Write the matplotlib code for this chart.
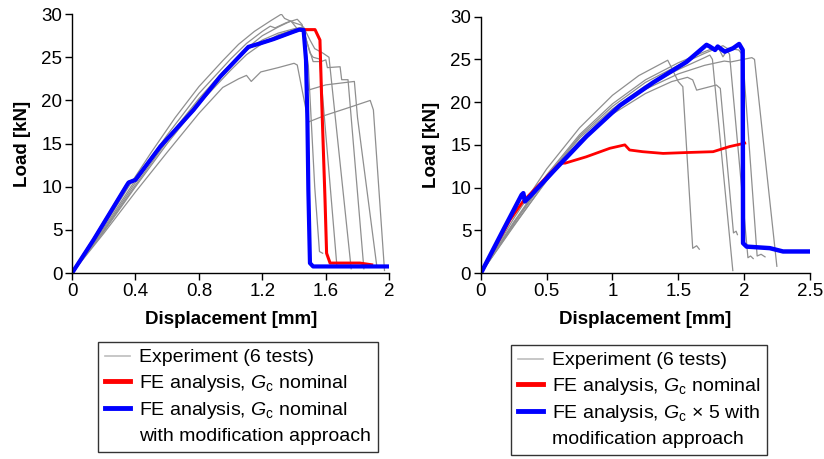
import matplotlib
matplotlib.use("Agg")
import matplotlib.pyplot as plt
from matplotlib.lines import Line2D
from matplotlib.ticker import FuncFormatter

plt.rcParams['font.family'] = ['Liberation Sans', 'DejaVu Sans']
plt.rcParams['mathtext.fontset'] = 'custom'
plt.rcParams['mathtext.rm'] = 'Liberation Sans'
plt.rcParams['mathtext.it'] = 'Liberation Sans:italic'

# ---- left panel data (displacement mm, load kN) ----
left_tests = [
    ([0, 0.1, 0.2, 0.35, 0.5, 0.65, 0.8, 0.95, 1.05, 1.15, 1.25, 1.32, 1.34, 1.40, 1.45, 1.49, 1.53, 1.56, 1.58],
     [0, 2.6, 5.4, 9.8, 14.0, 18.0, 21.6, 24.6, 26.5, 28.0, 29.2, 30.0, 29.5, 29.0, 28.7, 24.0, 10.0, 2.5, 2.3]),
    ([0, 0.2, 0.4, 0.6, 0.8, 0.95, 1.1, 1.2, 1.3, 1.38, 1.42, 1.46, 1.49, 1.60, 1.78, 1.80, 1.92],
     [0, 5.0, 10.5, 15.6, 20.2, 23.3, 26.0, 27.5, 28.5, 29.2, 28.3, 28.0, 21.2, 21.8, 22.2, 18.0, 1.0]),
    ([0, 0.2, 0.4, 0.6, 0.8, 1.0, 1.1, 1.2, 1.3, 1.40, 1.46, 1.52, 1.57, 1.60, 1.61, 1.69, 1.70, 1.74, 1.84],
     [0, 4.8, 10.0, 15.0, 19.6, 23.5, 25.3, 26.6, 27.6, 28.2, 28.0, 24.5, 24.5, 24.7, 23.8, 23.9, 22.4, 22.4, 0.5]),
    ([0, 0.2, 0.4, 0.6, 0.8, 0.95, 1.05, 1.10, 1.13, 1.19, 1.3, 1.40, 1.42, 1.49, 1.60, 1.75, 1.88, 1.90, 1.97],
     [0, 4.6, 9.4, 14.0, 18.5, 21.5, 22.5, 22.9, 22.2, 23.3, 23.8, 24.3, 24.1, 17.5, 18.3, 19.2, 20.0, 18.9, 0.3]),
    ([0, 0.2, 0.4, 0.6, 0.8, 1.0, 1.1, 1.2, 1.25, 1.28, 1.35, 1.42, 1.45, 1.50, 1.52, 1.56, 1.67],
     [0, 5.2, 10.8, 16.0, 20.8, 24.8, 26.6, 28.0, 28.6, 28.4, 29.0, 29.4, 28.8, 25.5, 25.0, 24.8, 0.8]),
    ([0, 0.2, 0.4, 0.6, 0.8, 0.9, 1.0, 1.1, 1.2, 1.3, 1.4, 1.46, 1.50, 1.53, 1.58, 1.62, 1.76],
     [0, 4.9, 10.2, 15.3, 20.0, 22.2, 24.0, 25.8, 27.0, 27.8, 28.3, 28.5, 27.0, 26.0, 25.5, 25.0, 0.5]),
]
blue_l_x = [0, 0.136, 0.346, 0.357, 0.40, 0.556, 0.766, 0.934, 1.112, 1.185, 1.27, 1.396, 1.433, 1.46, 1.475,
            1.484, 1.49, 1.50, 1.52, 2.0]
blue_l_y = [0, 3.86, 10.2, 10.5, 10.8, 14.65, 18.9, 22.75, 26.2, 26.6, 27.1, 27.96, 28.2, 28.15, 24.7,
            17.7, 9.6, 1.16, 0.77, 0.77]
# red follows the blue path up to the peak, then its own softening branch
red_l_x = [0, 0.136, 0.346, 0.357, 0.40, 0.556, 0.766, 0.934, 1.112, 1.185, 1.27, 1.396, 1.433,
           1.532, 1.563, 1.574, 1.595, 1.605, 1.627, 1.815, 1.889]
red_l_y = [0, 3.86, 10.2, 10.5, 10.8, 14.65, 18.9, 22.75, 26.2, 26.6, 27.1, 27.96, 28.2,
           28.2, 27.0, 20.05, 8.5, 2.3, 1.16, 1.16, 0.96]

# ---- right panel data ----
right_tests = [
    ([0, 0.25, 0.5, 0.75, 1.0, 1.2, 1.42, 1.44, 1.50, 1.535, 1.61, 1.64, 1.66],
     [0, 6.4, 12.2, 17.0, 20.8, 23.1, 24.9, 24.3, 22.4, 21.8, 2.9, 3.2, 2.8]),
    ([0, 0.25, 0.5, 0.75, 1.0, 1.25, 1.45, 1.57, 1.61, 1.64, 1.79, 1.82, 1.92, 1.94, 1.95],
     [0, 5.6, 10.8, 15.3, 18.6, 21.0, 22.4, 22.9, 22.6, 21.4, 22.0, 21.6, 4.7, 4.9, 4.5]),
    ([0, 0.25, 0.5, 0.75, 1.0, 1.25, 1.5, 1.7, 1.74, 1.76, 1.915],
     [0, 5.8, 11.2, 15.8, 19.2, 21.9, 23.8, 25.2, 25.5, 25.0, 0.3]),
    ([0, 0.25, 0.5, 0.75, 1.0, 1.25, 1.5, 1.7, 1.84, 1.87, 1.96, 1.99, 2.10, 2.13, 2.16],
     [0, 5.9, 11.3, 16.0, 19.5, 22.3, 24.3, 25.7, 26.6, 26.3, 26.1, 25.5, 2.0, 2.2, 1.9]),
    ([0, 0.25, 0.5, 0.75, 1.0, 1.25, 1.5, 1.7, 1.85, 1.9, 2.06, 2.08, 2.25],
     [0, 5.5, 10.9, 15.5, 18.9, 21.5, 23.3, 24.3, 24.8, 24.7, 25.2, 25.0, 0.8]),
    ([0, 0.25, 0.5, 0.75, 1.0, 1.25, 1.5, 1.7, 1.80, 1.84, 1.87, 1.89, 2.03, 2.05, 2.07],
     [0, 6.0, 11.5, 16.2, 19.8, 22.6, 24.6, 25.9, 26.5, 25.3, 26.0, 25.6, 1.8, 2.0, 1.7]),
]
red_r_x = [0, 0.22, 0.32, 0.6, 0.64, 0.80, 0.98, 1.094, 1.13, 1.23, 1.385, 1.56, 1.765, 1.89, 2.006]
red_r_y = [0, 6.2, 8.4, 12.86, 12.86, 13.6, 14.6, 15.0, 14.4, 14.2, 14.0, 14.1, 14.2, 14.8, 15.2]
blue_r_x = [0, 0.17, 0.309, 0.322, 0.334, 0.372, 0.55, 0.803, 1.056, 1.31, 1.563, 1.715, 1.74, 1.78, 1.80,
            1.854, 1.917, 1.963, 1.99, 1.993, 2.02, 2.196, 2.297, 2.5]
blue_r_y = [0, 5.06, 9.15, 9.35, 8.38, 8.96, 11.9, 16.0, 19.6, 22.3, 24.7, 26.7, 26.5, 26.1, 26.5,
            25.9, 26.3, 26.8, 26.1, 3.5, 3.1, 2.92, 2.53, 2.53]

left_xticks = [0, 0.4, 0.8, 1.2, 1.6, 2.0]
right_xticks = [0, 0.5, 1.0, 1.5, 2.0, 2.5]
yticks = [0, 5, 10, 15, 20, 25, 30]

gray = '#8f8f8f'
fig = plt.figure(figsize=(8.24, 4.59), dpi=100)
ax1 = fig.add_axes([0.0874, 0.405, 0.385, 0.5643])
ax2 = fig.add_axes([0.5837, 0.405, 0.399, 0.5588])

def style(ax, xmax, xticks):
    ax.set_xlim(0, xmax)
    ax.set_ylim(0, 30)
    ax.set_xticks(xticks)
    ax.set_yticks(yticks)
    ax.xaxis.set_major_formatter(FuncFormatter(lambda v, p: '%g' % v))
    ax.spines['top'].set_visible(False)
    ax.spines['right'].set_visible(False)
    for s in ('left', 'bottom'):
        ax.spines[s].set_linewidth(1.0)
    ax.tick_params(labelsize=13.5, length=5, width=1, pad=2)
    ax.set_xlabel('Displacement [mm]', fontsize=13.5, fontweight='bold', labelpad=8)
    ax.set_ylabel('Load [kN]', fontsize=13.5, fontweight='bold', labelpad=7.5)

for xs, ys in left_tests:
    ax1.plot(xs, ys, color=gray, lw=0.9)
ax1.plot(red_l_x, red_l_y, color='#ff0000', lw=2.2)
ax1.plot(blue_l_x, blue_l_y, color='#0000ff', lw=3.0)
style(ax1, 2.0, left_xticks)

for xs, ys in right_tests:
    ax2.plot(xs, ys, color=gray, lw=0.9)
ax2.plot(red_r_x, red_r_y, color='#ff0000', lw=2.0)
ax2.plot(blue_r_x, blue_r_y, color='#0000ff', lw=3.2)
style(ax2, 2.5, right_xticks)

def add_legend(labels, x, y):
    handles = [Line2D([], [], color='#bdbdbd', lw=1.2),
               Line2D([], [], color='#ff0000', lw=3.5),
               Line2D([], [], color='#0000ff', lw=3.5),
               Line2D([], [], color='none', lw=0)]
    leg = fig.legend(handles, labels, loc='upper left', bbox_to_anchor=(x, y),
                     fontsize=14, frameon=True, fancybox=False, edgecolor='black',
                     handlelength=1.3, handletextpad=0.45, labelspacing=0.32,
                     borderpad=0.35, borderaxespad=0)
    leg.get_frame().set_linewidth(1.0)

add_legend(['Experiment (6 tests)', r'FE analysis, $G_\mathrm{c}$ nominal',
            r'FE analysis, $G_\mathrm{c}$ nominal', 'with modification approach'],
           98 / 824, 1 - 342 / 459)
add_legend(['Experiment (6 tests)', r'FE analysis, $G_\mathrm{c}$ nominal',
            r'FE analysis, $G_\mathrm{c}$ × 5 with', 'modification approach'],
           511 / 824, 1 - 345 / 459)

fig.savefig('out.png', dpi=100)
